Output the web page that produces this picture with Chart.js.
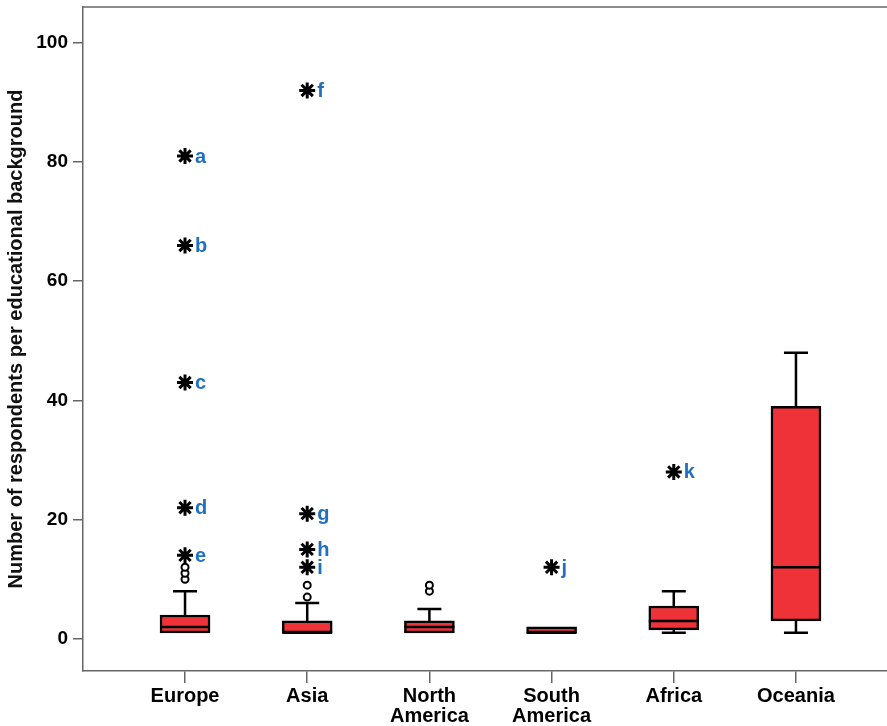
<!DOCTYPE html>
<html>
<head>
<meta charset="utf-8">
<script src="https://cdn.jsdelivr.net/npm/chart.js@4.4.1/dist/chart.umd.min.js"></script>
<style>
  html, body { margin: 0; padding: 0; background: #fff; }
  #wrap { width: 887px; height: 726px; }
</style>
</head>
<body>
<div id="wrap"><canvas id="boxChart"></canvas></div>
<script>
// Box plot values, one entry per region
const categories = ['Europe', 'Asia', ['North', 'America'], ['South', 'America'], 'Africa', 'Oceania'];
const whiskerLow  = [1, 1, 1, 1, 1, 1];
const q1          = [1, 1, 1, 1, 1.5, 3];
const median      = [2, 1, 2, 1, 3, 12];
const q3          = [4, 3, 3, 2, 5.5, 39];
const whiskerHigh = [8, 6, 5, 2, 8, 48];

// outliers (circles) and extreme values (stars) as [category index, value]
const outliers = [[0, 10], [0, 11], [0, 12], [1, 7], [1, 9], [2, 8], [2, 9]];
const extremes = [[0, 81], [0, 66], [0, 43], [0, 22], [0, 14],
                  [1, 92], [1, 21], [1, 15], [1, 12],
                  [3, 12], [4, 28]];
const extremeLabels = ['a', 'b', 'c', 'd', 'e', 'f', 'g', 'h', 'i', 'j', 'k'];

const yTicks = [0, 20, 40, 60, 80, 100];

const FONT = "'Liberation Sans', Arial, sans-serif";
const capHalf = 12;

// whiskers, caps and medians, drawn through the chart scales
const boxLines = {
    id: 'boxLines',
    beforeDatasetsDraw(chart) {
        const ctx = chart.ctx, x = chart.scales.x, y = chart.scales.y;
        ctx.save();
        ctx.strokeStyle = '#000';
        ctx.lineWidth = 2.5;
        categories.forEach((c, i) => {
            const px = x.getPixelForValue(i);
            [[whiskerLow[i], q1[i]], [whiskerHigh[i], q3[i]]].forEach(([w, q]) => {
                if (w === q) return;
                ctx.beginPath();
                ctx.moveTo(px, y.getPixelForValue(w));
                ctx.lineTo(px, y.getPixelForValue(q));
                ctx.moveTo(px - capHalf, y.getPixelForValue(w));
                ctx.lineTo(px + capHalf, y.getPixelForValue(w));
                ctx.stroke();
            });
        });
        ctx.restore();
    },
    afterDatasetsDraw(chart) {
        const ctx = chart.ctx, x = chart.scales.x, y = chart.scales.y;
        const box = chart.getDatasetMeta(0).data;
        ctx.save();
        ctx.strokeStyle = '#000';
        ctx.lineWidth = 2.5;
        categories.forEach((c, i) => {
            const half = box[i].width / 2;
            const px = x.getPixelForValue(i);
            const py = y.getPixelForValue(median[i]);
            ctx.beginPath();
            ctx.moveTo(px - half, py);
            ctx.lineTo(px + half, py);
            ctx.stroke();
        });
        // letters next to the extreme values
        ctx.fillStyle = '#1f70c1';
        ctx.font = 'bold 20px ' + FONT;
        ctx.textBaseline = 'middle';
        extremes.forEach(([i, v], k) => {
            ctx.fillText(extremeLabels[k], x.getPixelForValue(i) + 10, y.getPixelForValue(v) + 1);
        });
        // top frame line
        const a = chart.chartArea;
        ctx.strokeStyle = '#666';
        ctx.lineWidth = 1.5;
        ctx.beginPath();
        ctx.moveTo(a.left, a.top);
        ctx.lineTo(a.right, a.top);
        ctx.stroke();
        ctx.restore();
    }
};

new Chart(document.getElementById('boxChart').getContext('2d'), {
    type: 'bar',
    data: {
        datasets: [{
            type: 'bar',
            data: categories.map((c, i) => ({ x: i, y: [q1[i], q3[i]] })),
            backgroundColor: '#ee3238',
            borderColor: '#000',
            borderWidth: 2.5,
            borderSkipped: false,
            barThickness: 50,
            order: 2
        }, {
            type: 'scatter',
            data: outliers.map(([i, v]) => ({ x: i, y: v })),
            pointStyle: 'circle',
            pointRadius: 3.5,
            backgroundColor: '#fff',
            borderColor: '#000',
            borderWidth: 2,
            order: 1
        }, {
            type: 'scatter',
            data: extremes.map(([i, v]) => ({ x: i, y: v })),
            pointStyle: 'star',
            pointRadius: 8,
            borderColor: '#000',
            borderWidth: 3,
            order: 0
        }]
    },
    options: {
        responsive: true,
        maintainAspectRatio: false,
        animation: false,
        layout: { autoPadding: false, padding: { top: 7, left: 0, right: 0, bottom: 0 } },
        plugins: { legend: { display: false }, tooltip: { enabled: false } },
        scales: {
            x: {
                type: 'linear',
                offset: false,
                min: -0.835,
                max: 5.745,
                afterBuildTicks: s => { s.ticks = categories.map((c, i) => ({ value: i })); },
                afterFit: s => { s.height = 55; s.paddingRight = 0; s.paddingLeft = 0; },
                grid: { display: true, offset: false, drawOnChartArea: false, drawTicks: true, tickLength: 12, color: '#666', lineWidth: 1.5 },
                border: { display: true, color: '#666', width: 1.5 },
                ticks: {
                    callback: v => categories[v],
                    color: '#000',
                    font: { family: FONT, size: 20, weight: 'bold', lineHeight: 0.98 },
                    padding: 4,
                    maxRotation: 0,
                    autoSkip: false
                }
            },
            y: {
                min: -5.4,
                max: 106,
                afterBuildTicks: s => { s.ticks = yTicks.map(v => ({ value: v })); },
                afterFit: s => { s.width = 83; s.paddingTop = 0; s.paddingBottom = 0; },
                grid: { display: true, drawOnChartArea: false, drawTicks: true, tickLength: 10, color: '#666', lineWidth: 1.5 },
                border: { display: true, color: '#666', width: 1.5 },
                ticks: {
                    color: '#000',
                    font: { family: FONT, size: 19, weight: 'bold' },
                    padding: 5
                },
                title: {
                    display: true,
                    text: 'Number of respondents per educational background',
                    color: '#111',
                    font: { family: FONT, size: 20, weight: 'bold' },
                    padding: { top: 4, bottom: 0 }
                }
            }
        }
    },
    plugins: [boxLines]
});
</script>
</body>
</html>
